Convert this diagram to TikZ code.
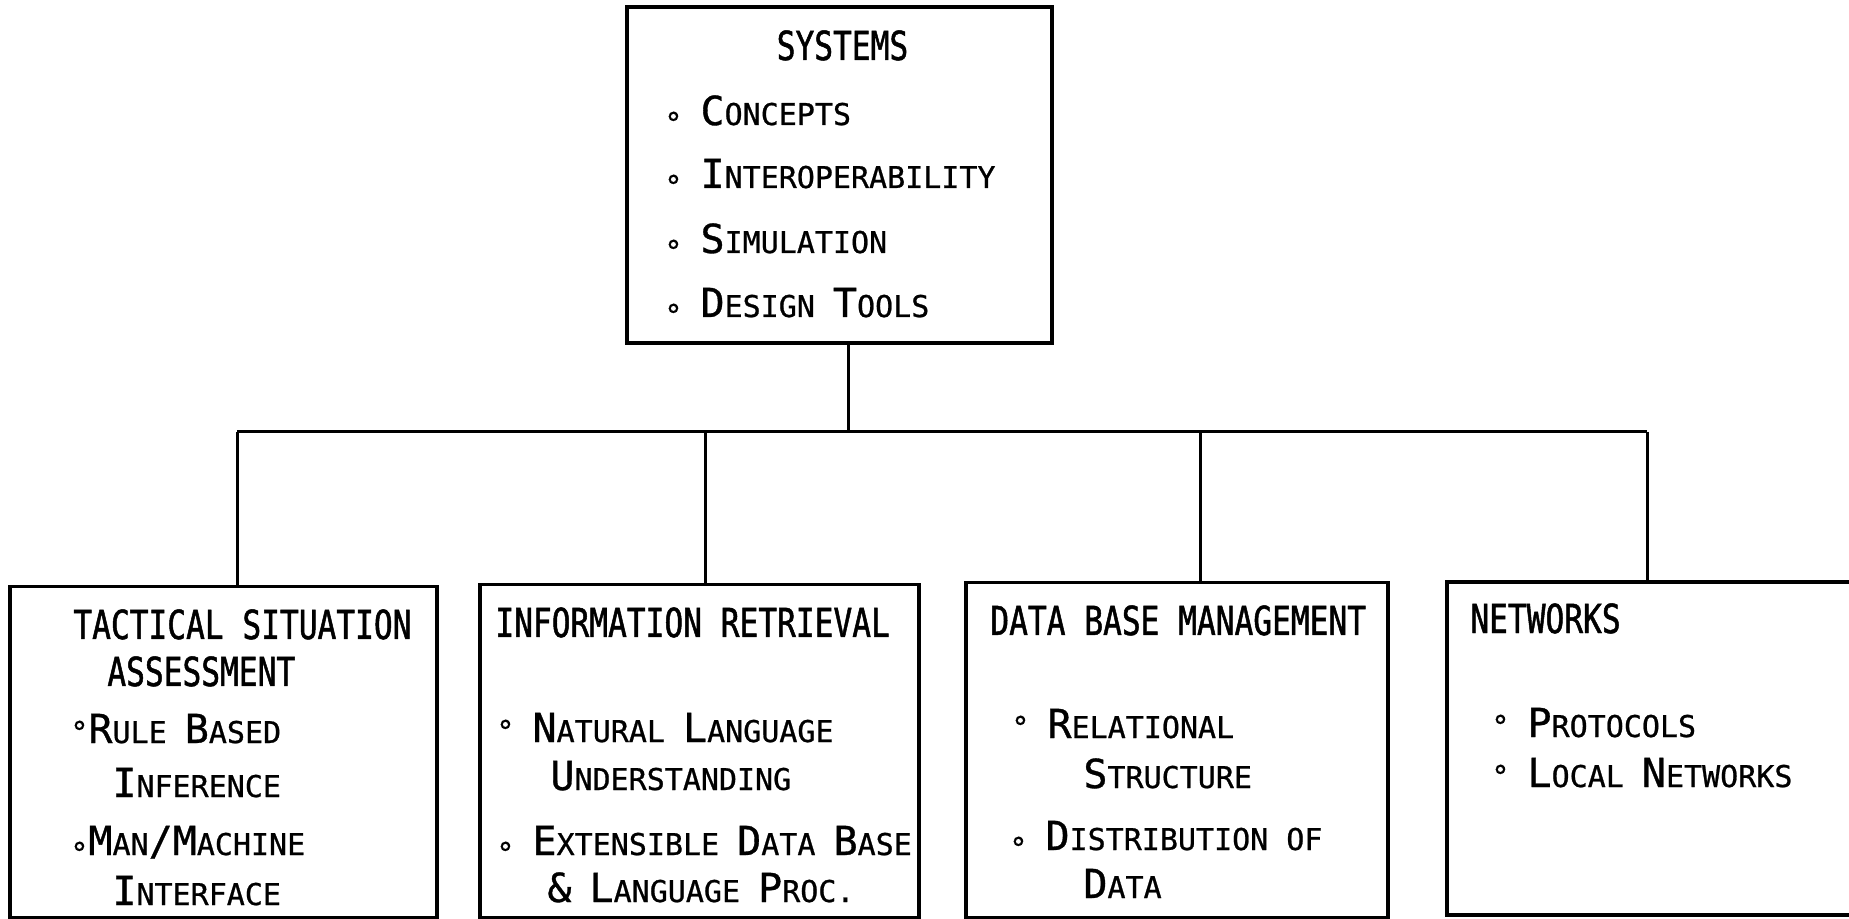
\documentclass[tikz,border=0pt]{standalone}
\usepackage{fontspec}
\newfontfamily\hdfont[FakeStretch=0.78,FakeBold=1.2]{DejaVu Sans Mono}
\newfontfamily\itmfont[FakeBold=0.8]{DejaVu Sans Mono}
\newcommand{\sm}[1]{{\fontsize{15}{18}\selectfont #1}}
\newcommand{\hb}{\sm{°}}
\newcommand{\lb}{\sm{\raisebox{-4.5pt}{°}}}
\newcommand{\gap}{\sm{\ }}

\begin{document}
\begin{tikzpicture}[x=0.5pt,y=-0.5pt,
  box/.style={draw,line width=1.8pt,inner sep=0pt},
  hd/.style={anchor=base west,inner sep=0pt,font=\hdfont\fontsize{20}{24}\selectfont},
  itm/.style={anchor=base west,inner sep=0pt,font=\itmfont\fontsize{20}{24}\selectfont},
  wire/.style={line width=1.5pt}]
\useasboundingbox[fill=white] (0,0) rectangle (1849,919);

\node[box,minimum width=212.5pt,minimum height=168pt] (sys) at (839.5,175) {};
\node[box,minimum width=213.5pt,minimum height=165.5pt] (b1) at (223.5,752) {};
\node[box,minimum width=219.5pt,minimum height=166.5pt] (b2) at (699.5,751) {};
\node[box,minimum width=211pt,minimum height=167.5pt] (b3) at (1177,750) {};
\node[box,minimum width=211.5pt,minimum height=166.5pt] (b4) at (1658.5,748.5) {};

% systems
\node[hd,anchor=base] (sysT) at (842.5,60) {SYSTEMS};
\node[itm] (sys1) at (664,125) {\lb\gap C\sm{ONCEPTS}};
\node[itm] (sys2) at (664,188) {\lb\gap I\sm{NTEROPERABILITY}};
\node[itm] (sys3) at (664,253) {\lb\gap S\sm{IMULATION}};
\node[itm] (sys4) at (664,317) {\lb\gap D\sm{ESIGN }T\sm{OOLS}};

% tactical situation assessment
\node[hd] (tsaT1) at (73,639) {TACTICAL SITUATION};
\node[hd] (tsaT2) at (107,686) {ASSESSMENT};
\node[itm] (tsa1) at (70,743) {\hb R\sm{ULE }B\sm{ASED}};
\node[itm] (tsa2) at (112,797) {I\sm{NFERENCE}};
\node[itm] (tsa3) at (70,855) {\lb M\sm{AN}/M\sm{ACHINE}};
\node[itm] (tsa4) at (112,905) {I\sm{NTERFACE}};

% information retrieval
\node[hd] (irT) at (495,637) {INFORMATION RETRIEVAL};
\node[itm] (ir1) at (496,742) {\hb\gap N\sm{ATURAL }L\sm{ANGUAGE}};
\node[itm] (ir2) at (550,790) {U\sm{NDERSTANDING}};
\node[itm] (ir3) at (496,855) {\lb\gap E\sm{XTENSIBLE }D\sm{ATA }B\sm{ASE}};
\node[itm] (ir4) at (547,902) {\&\sm{ }L\sm{ANGUAGE }P\sm{ROC.}};

% data base management
\node[hd] (dbT) at (990,635) {DATA BASE MANAGEMENT};
\node[itm] (db1) at (1011,738) {\hb\gap R\sm{ELATIONAL}};
\node[itm] (db2) at (1083,788) {S\sm{TRUCTURE}};
\node[itm] (db3) at (1009,850) {\lb\gap D\sm{ISTRIBUTION OF}};
\node[itm] (db4) at (1083,898) {D\sm{ATA}};

% networks
\node[hd] (netT) at (1470,633) {NETWORKS};
\node[itm] (net1) at (1491,737) {\hb\gap P\sm{ROTOCOLS}};
\node[itm] (net2) at (1491,787) {\hb\gap L\sm{OCAL }N\sm{ETWORKS}};

% tree lines
\coordinate (bus) at (848,432);
\coordinate (j1) at (237,432);
\coordinate (j2) at (705,432);
\coordinate (j3) at (1200,432);
\coordinate (j4) at (1647,432);
\draw[wire] (bus |- sys.south) -- (bus);
\draw[wire] (j1) -- (j4);
\foreach \i in {1,...,4}
  \draw[wire] (j\i) -- (j\i |- b\i.north);
\end{tikzpicture}
\end{document}
